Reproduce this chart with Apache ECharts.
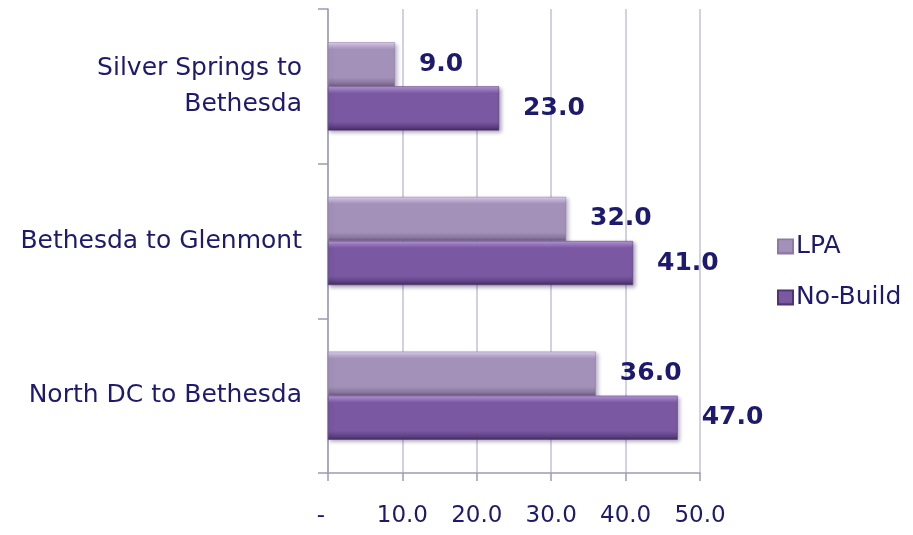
<!DOCTYPE html>
<html>
<head>
<meta charset="utf-8">
<script src="https://cdn.jsdelivr.net/npm/echarts@6/dist/echarts.min.js"></script>
<style>
  html, body { margin: 0; padding: 0; background: #ffffff; }
  #chart { width: 913px; height: 535px; }
</style>
</head>
<body>
<div id="chart"></div>
<script>
// Travel time comparison by corridor
const categories = ['Silver Springs to\nBethesda', 'Bethesda to Glenmont', 'North DC to Bethesda'];
const seriesNames = ['LPA', 'No-Build'];
const lpaValues = [9.0, 32.0, 36.0];
const noBuildValues = [23.0, 41.0, 47.0];
const tickValues = [0, 10, 20, 30, 40, 50];

const navy = '#1d1a6e';
const font = 'DejaVu Sans';

// Bevelled bar fills: light top edge, flat body, dark lower edge
function bevel(top, body, low, edge) {
  return new echarts.graphic.LinearGradient(0, 0, 0, 1, [
    { offset: 0, color: top },
    { offset: 0.16, color: body },
    { offset: 0.80, color: body },
    { offset: 0.92, color: low },
    { offset: 1, color: edge }
  ]);
}
const lpaFill = bevel('#ddd0ec', '#a391ba', '#8b779f', '#6d5c80');
const nbFill = bevel('#b99ad9', '#7a58a2', '#5e4183', '#432c60');

const chart = echarts.init(document.getElementById('chart'), null, { renderer: 'canvas' });

const labelStyle = {
  show: true,
  position: 'right',
  distance: 24,
  color: navy,
  fontFamily: font,
  fontWeight: 'bold',
  fontSize: 25,
  formatter: p => p.value.toFixed(1)
};

chart.setOption({
  animation: false,
  grid: { left: 328, right: 213, top: 9, bottom: 62, containLabel: false },
  legend: {
    orient: 'vertical',
    left: 772,
    top: 229,
    itemWidth: 15,
    itemHeight: 14,
    itemGap: 26,
    icon: 'rect',
    textStyle: { color: navy, fontFamily: font, fontSize: 25, padding: [0, 0, 0, -2] },
    data: seriesNames
  },
  xAxis: {
    type: 'value',
    min: 0,
    max: 50,
    interval: 10,
    axisLine: { show: true, lineStyle: { color: '#9c9cb4', width: 1.5 } },
    axisTick: { show: true, length: 8, lineStyle: { color: '#9c9cb4', width: 1.5 } },
    splitLine: { show: true, lineStyle: { color: '#c2c2da', width: 1.5 } },
    axisLabel: {
      margin: 32,
      color: navy,
      fontFamily: font,
      fontSize: 23,
      customValues: tickValues,
      formatter: v => (v === 0 ? '-{p|}' : v.toFixed(1)),
      rich: { p: { width: 14 } }
    }
  },
  yAxis: {
    type: 'category',
    inverse: true,
    data: categories,
    axisLine: { show: true, lineStyle: { color: '#9c9cb4', width: 1.5 } },
    axisTick: { show: true, length: 10, lineStyle: { color: '#9c9cb4', width: 1.5 } },
    axisLabel: {
      margin: 26,
      color: navy,
      fontFamily: font,
      fontSize: 25,
      lineHeight: 36,
      align: 'right'
    }
  },
  series: [
    {
      name: 'LPA',
      type: 'bar',
      data: lpaValues,
      barGap: '0%',
      barCategoryGap: '43%',
      itemStyle: {
        color: lpaFill,
        borderColor: '#8c7aa2',
        borderWidth: 0.5,
        shadowColor: 'rgba(60,40,90,0.35)',
        shadowBlur: 4,
        shadowOffsetX: 2,
        shadowOffsetY: 2
      },
      label: labelStyle
    },
    {
      name: 'No-Build',
      type: 'bar',
      data: noBuildValues,
      itemStyle: {
        color: nbFill,
        borderColor: '#4e3570',
        borderWidth: 0.5,
        shadowColor: 'rgba(40,20,70,0.4)',
        shadowBlur: 4,
        shadowOffsetX: 2,
        shadowOffsetY: 2
      },
      label: labelStyle
    }
  ]
});
</script>
</body>
</html>
